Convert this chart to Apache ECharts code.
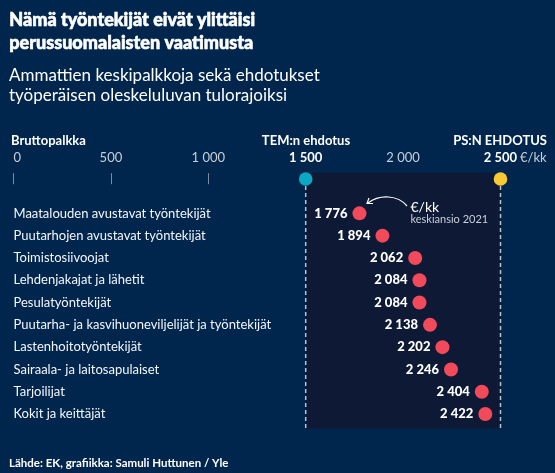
<!DOCTYPE html>
<html><head><meta charset="utf-8">
<script src="https://cdn.jsdelivr.net/npm/echarts@6/dist/echarts.min.js"></script>
<style>html,body{margin:0;padding:0;background:#01264e;}#c{width:555px;height:473px;}</style>
</head><body><div id="c"></div>
<script>
const categories = [
  'Maatalouden avustavat työntekijät',
  'Puutarhojen avustavat työntekijät',
  'Toimistosiivoojat',
  'Lehdenjakajat ja lähetit',
  'Pesulatyöntekijät',
  'Puutarha- ja kasvihuoneviljelijät ja työntekijät',
  'Lastenhoitotyöntekijät',
  'Sairaala- ja laitosapulaiset',
  'Tarjoilijat',
  'Kokit ja keittäjät'
];
const values = [1776, 1894, 2062, 2084, 2084, 2138, 2202, 2246, 2404, 2422];
const tickValues = [0, 500, 1000, 1500, 2000, 2500];
const tickLabels = ['0', '500', '1 000', '1 500', '2 000', '2 500'];
const proposals = [1500, 2500];
const proposalNames = ['TEM:n ehdotus', 'PS:N EHDOTUS'];

const FONT = 'Lato, "Open Sans", sans-serif';
const fmt = v => String(v).replace(/\B(?=(\d{3})+(?!\d))/g, ' ');
const proposalColors = ['#0ba8c4', '#f7c933'];

const chart = echarts.init(document.getElementById('c'), null, {renderer: 'canvas'});
const option = {
  backgroundColor: '#01264e',
  animation: false,
  textStyle: {fontFamily: FONT},
  grid: {left: 13.5, right: 54.5, top: 202.2, bottom: 47.8, containLabel: false},
  xAxis: {
    type: 'value', min: 0, max: 2500, interval: 500, position: 'top', offset: 18,
    axisLine: {show: false},
    axisTick: {show: true, length: 11, lineStyle: {color: '#7f8ba3', width: 1}},
    splitLine: {show: false},
    axisLabel: {
      margin: 20, alignMinLabel: 'left', showMinLabel: true, showMaxLabel: true,
      color: '#c9ced8', fontSize: 13, fontFamily: FONT,
      formatter: v => {
        const i = tickValues.indexOf(v);
        const t = i >= 0 ? tickLabels[i] : fmt(v);
        if (v === proposals[1]) return '{sp|}{b|' + t + '}{u| €/kk}';
        if (v === proposals[0]) return '{b|' + t + '}';
        return t;
      },
      rich: {
        b: {fontWeight: 'bold', color: '#ffffff', fontSize: 13, fontFamily: FONT},
        u: {color: '#c9ced8', fontSize: 13, fontFamily: FONT, width: 29},
        sp: {width: 29}
      }
    }
  },
  yAxis: {
    type: 'category', data: categories, inverse: true,
    axisLine: {show: false}, axisTick: {show: false}, splitLine: {show: false},
    axisLabel: {inside: true, margin: 0, color: '#f4f6fa', fontSize: 13, fontFamily: FONT}
  },
  series: [
    {
      type: 'custom', name: 'zone', silent: true, clip: false, z: 1,
      data: [[proposals[0], proposals[1], 0]],
      encode: {x: [0, 1], y: 2},
      renderItem: (params, api) => {
        const cs = params.coordSys;
        const a = api.coord([api.value(0), 0]);
        const b = api.coord([api.value(1), 0]);
        return {type: 'rect', shape: {x: a[0], y: cs.y - 29.5, width: b[0] - a[0], height: cs.height + 32.8},
          style: {fill: '#0e1a35'}};
      }
    },
    {
      type: 'custom', name: 'proposals', silent: true, clip: false, z: 3,
      data: proposals.map(p => [p, 0]),
      encode: {x: 0, y: 1},
      renderItem: (params, api) => {
        const cs = params.coordSys;
        const p = api.coord([api.value(0), 0]);
        const cy = cs.y - 23.2;
        return {type: 'group', children: [
          {type: 'line', shape: {x1: p[0], y1: cy, x2: p[0], y2: cs.y + cs.height + 3},
            style: {stroke: '#b9c0cc', lineWidth: 1.5, lineDash: [4, 3]}},
          {type: 'circle', shape: {cx: p[0], cy: cy, r: 6.8},
            style: {fill: proposalColors[params.dataIndex]}}
        ]};
      }
    },
    {
      type: 'scatter', name: 'keskiansio', z: 4,
      data: values.map((v, i) => [v, categories[i]]),
      symbol: 'circle', symbolSize: 14,
      itemStyle: {color: '#f24a5b', opacity: 1},
      label: {
        show: true, position: 'left', distance: 5,
        formatter: p => fmt(p.value[0]),
        color: '#ffffff', fontWeight: 900, fontSize: 13, fontFamily: FONT
      }
    }
  ],
  graphic: [
    {type: 'text', left: 9, top: 9, style: {text: 'Nämä työntekijät eivät ylittäisi\nperussuomalaisten vaatimusta',
      fill: '#ffffff', stroke: '#ffffff', lineWidth: 0.6, font: '900 18px ' + FONT, lineHeight: 23}},
    {type: 'text', left: 9, top: 66, style: {text: 'Ammattien keskipalkkoja sekä ehdotukset\ntyöperäisen oleskeluluvan tulorajoiksi',
      fill: '#ffffff', font: '17px ' + FONT, lineHeight: 20}},
    {type: 'text', x: 11, y: 141, style: {text: 'Bruttopalkka', fill: '#ffffff', font: 'bold 13px ' + FONT,
      verticalAlign: 'middle', align: 'left'}},
    {type: 'text', x: 306, y: 141, style: {text: proposalNames[0], fill: '#ffffff', font: 'bold 13px ' + FONT,
      verticalAlign: 'middle', align: 'center'}},
    {type: 'text', x: 547, y: 141, style: {text: proposalNames[1], fill: '#ffffff', font: 'bold 13px ' + FONT,
      verticalAlign: 'middle', align: 'right'}},
    {type: 'bezierCurve', z: 10, shape: {x1: 407, y1: 206, cpx1: 398, cpy1: 195, cpx2: 380, cpy2: 194, x2: 368, y2: 203},
      style: {stroke: '#ffffff', lineWidth: 1.2, fill: null}},
    {type: 'polyline', z: 10, shape: {points: [[369, 198], [367, 203.5], [373, 203.5]]},
      style: {stroke: '#ffffff', lineWidth: 1.2, fill: null}},
    {type: 'text', x: 410.5, y: 207, z: 10, style: {text: '€/kk', fill: '#ffffff', font: '14px ' + FONT,
      verticalAlign: 'middle', align: 'left'}},
    {type: 'text', x: 410.5, y: 219.5, z: 10, style: {text: 'keskiansio 2021', fill: '#c9ced8', font: '11px ' + FONT,
      verticalAlign: 'middle', align: 'left'}},
    {type: 'text', x: 9, y: 463.5, style: {text: 'Lähde: EK, grafiikka: Samuli Huttunen / Yle', fill: '#ffffff',
      font: 'bold 11.5px ' + FONT, verticalAlign: 'middle', align: 'left'}}
  ]
};
chart.setOption(option);
</script></body></html>
